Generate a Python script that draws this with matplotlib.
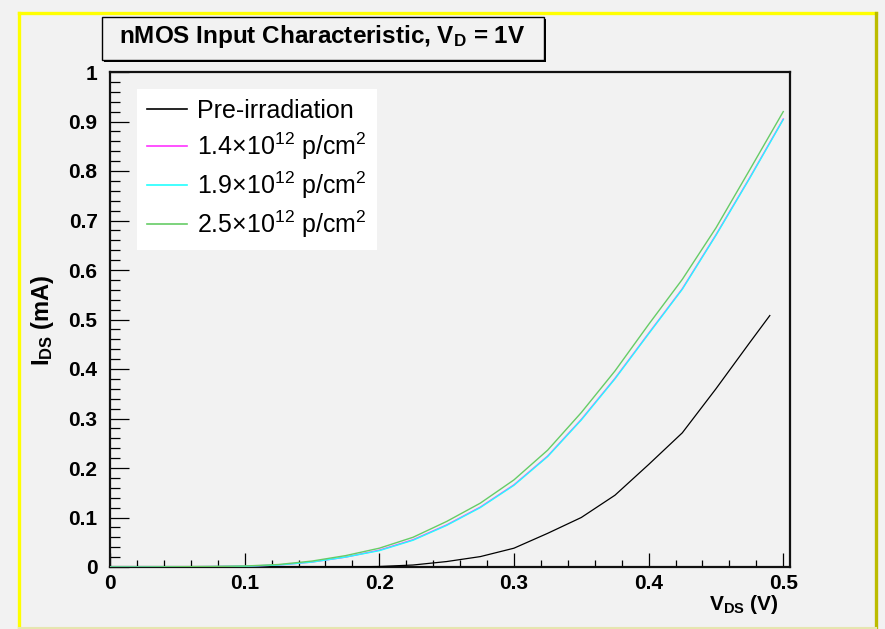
import matplotlib
matplotlib.use("Agg")
import matplotlib.pyplot as plt
from matplotlib.patches import Rectangle
from matplotlib.lines import Line2D
from matplotlib.ticker import MultipleLocator

plt.rcParams['font.family'] = ['Liberation Sans', 'DejaVu Sans']
plt.rcParams['mathtext.fontset'] = 'custom'
plt.rcParams['mathtext.rm'] = 'Liberation Sans'
plt.rcParams['mathtext.it'] = 'Liberation Sans'
plt.rcParams['mathtext.bf'] = 'Liberation Sans:bold'

# ---------------- data ----------------
v_irr = [0.0, 0.025, 0.05, 0.075, 0.1, 0.125, 0.15, 0.175, 0.2, 0.225, 0.25,
         0.275, 0.3, 0.325, 0.35, 0.375, 0.4, 0.425, 0.45, 0.475, 0.5]
i_14 = [0.0, 0.0, 0.0004, 0.0008, 0.0015, 0.004, 0.010, 0.020, 0.034, 0.055, 0.085,
        0.121, 0.166, 0.224, 0.298, 0.381, 0.472, 0.562, 0.671, 0.786, 0.905]
i_19 = [0.0, 0.0, 0.0004, 0.0008, 0.0015, 0.004, 0.010, 0.020, 0.033, 0.054, 0.084,
        0.120, 0.165, 0.223, 0.297, 0.380, 0.471, 0.561, 0.670, 0.785, 0.904]
i_25 = [0.0, 0.0, 0.0005, 0.001, 0.002, 0.005, 0.012, 0.023, 0.038, 0.060, 0.092,
        0.129, 0.176, 0.236, 0.312, 0.396, 0.490, 0.581, 0.685, 0.802, 0.920]

v_pre = [0.0, 0.025, 0.05, 0.075, 0.1, 0.125, 0.15, 0.175, 0.2, 0.225, 0.25,
         0.275, 0.3, 0.325, 0.35, 0.375, 0.4, 0.425, 0.45, 0.475, 0.49]
i_pre = [0.0, 0.0, 0.0, 0.0, 0.0, 0.0, 0.0, 0.0, 0.001, 0.004, 0.011,
         0.021, 0.038, 0.068, 0.100, 0.145, 0.207, 0.271, 0.360, 0.453, 0.508]

labels = ["Pre-irradiation",
          r"1.4$\times$10$^{12}$ p/cm$^{2}$",
          r"1.9$\times$10$^{12}$ p/cm$^{2}$",
          r"2.5$\times$10$^{12}$ p/cm$^{2}$"]
colors = ["#000000", "#ff33ff", "#22ffff", "#66cc66"]

title = r"nMOS Input Characteristic, V$_{\mathbf{D}}$ = 1V"
xticks = [0, 0.1, 0.2, 0.3, 0.4, 0.5]
yticks = [0, 0.1, 0.2, 0.3, 0.4, 0.5, 0.6, 0.7, 0.8, 0.9, 1]
xticklabels = ["0", "0.1", "0.2", "0.3", "0.4", "0.5"]
yticklabels = ["0", "0.1", "0.2", "0.3", "0.4", "0.5", "0.6", "0.7", "0.8", "0.9", "1"]

# ---------------- figure ----------------
W, H = 885, 629
fig = plt.figure(figsize=(W / 100, H / 100), dpi=100, facecolor="#f2f2f2")

def fx(px):
    return px / W

def fy(py):
    return 1 - py / H

# yellow bevelled frame
fig.add_artist(Line2D([fx(18.5), fx(18.5)], [fy(12.5), fy(627)], color="#ffff00", lw=2.4))
fig.add_artist(Line2D([fx(18.5), fx(875.5)], [fy(12.5), fy(12.5)], color="#ffff00", lw=2.4))
fig.add_artist(Line2D([fx(875.5), fx(875.5)], [fy(12.5), fy(627.5)], color="#bcbc00", lw=2.4))
fig.add_artist(Line2D([fx(18.5), fx(876)], [fy(627.5), fy(627.5)], color="#e6e6b0", lw=1.5))

L, R, T, B = 110, 790, 72, 567
ax = fig.add_axes([fx(L), fy(B), (R - L) / W, (B - T) / H])
ax.set_facecolor("#f2f2f2")

ax.plot(v_pre, i_pre, color=colors[0], lw=0.9, label=labels[0], zorder=3)
ax.plot(v_irr, i_14, color=colors[1], lw=1.0, label=labels[1], zorder=3)
ax.plot(v_irr, i_19, color=colors[2], lw=1.0, label=labels[2], zorder=4)
ax.plot(v_irr, i_25, color=colors[3], lw=1.0, label=labels[3], zorder=5)

ax.set_xlim(0, 0.505)
ax.set_ylim(0, 1.0)
ax.set_xticks(xticks)
ax.set_xticklabels(xticklabels)
ax.set_yticks(yticks)
ax.set_yticklabels(yticklabels)
ax.xaxis.set_minor_locator(MultipleLocator(0.02))
ax.yaxis.set_minor_locator(MultipleLocator(0.02))

for sp in ax.spines.values():
    sp.set_linewidth(1.6)
    sp.set_color("#111111")

ax.tick_params(axis="x", which="major", direction="in", length=10, width=0.9,
               labelsize=15, pad=5, top=False)
ax.tick_params(axis="x", which="minor", direction="in", length=5, width=0.9, top=False)
ax.tick_params(axis="y", which="major", direction="in", length=14, width=0.9,
               labelsize=15, pad=9, right=False)
ax.tick_params(axis="y", which="minor", direction="in", length=7, width=0.9, right=False)
for lab in ax.get_xticklabels() + ax.get_yticklabels():
    lab.set_fontweight("bold")

# axis titles
fig.text(fx(42), fy(320), r"I$_{\mathbf{DS}}$ (mA)", rotation=90, ha="center", va="center",
         fontsize=17, fontweight="bold")
fig.text(fx(779), fy(605), r"V$_{\mathbf{DS}}$ (V)", ha="right", va="center",
         fontsize=15, fontweight="bold")

# title box with shadow
fig.add_artist(Rectangle((fx(104), fy(62)), (546 - 104) / W, (62 - 19) / H,
                         facecolor="#000000", edgecolor="none", zorder=1))
fig.add_artist(Rectangle((fx(102), fy(60)), (544 - 102) / W, (60 - 17) / H,
                         facecolor="#f2f2f2", edgecolor="#000000", lw=1.0, zorder=2))
fig.text(fx(322), fy(36), title, ha="center", va="center", fontsize=17.5,
         fontweight="bold", zorder=3)

# legend
leg = ax.legend(loc="upper left", bbox_to_anchor=(fx(137), fy(89)),
                bbox_transform=fig.transFigure, borderaxespad=0,
                fontsize=18, frameon=True, fancybox=False, facecolor="white",
                edgecolor="none", framealpha=1.0, handlelength=1.6,
                handletextpad=0.4, labelspacing=0.3, borderpad=0.4)
for ln in leg.get_lines():
    ln.set_linewidth(1.2)

fig.savefig("out.png", dpi=100, facecolor=fig.get_facecolor())
